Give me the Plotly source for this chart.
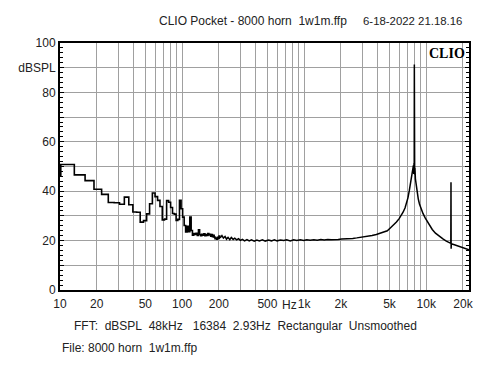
import math
import plotly.graph_objects as go

# ---------------- data ----------------
# FFT bins (48 kHz / 16384 points -> 2.93 Hz) at the low end, drawn as steps
low_freq = [8.79, 11.72, 14.65, 17.58, 20.51, 23.44, 26.37, 29.30, 32.23, 35.16,
            38.09, 41.02, 43.95, 46.88, 49.80, 52.73, 55.66, 58.59, 61.52, 64.45,
            67.38, 70.31, 73.24, 76.17, 79.10, 82.03, 84.96, 87.89, 90.82, 93.75,
            96.68, 99.61, 102.54, 105.47, 108.40, 111.33, 114.26, 117.19, 120.12, 123.05,
            125.98, 128.91, 131.84, 134.77, 137.70, 140.63, 143.55, 146.48, 149.41, 152.34,
            155.27, 158.20, 161.13, 164.06, 166.99, 169.92, 172.85, 175.78, 178.71, 181.64,
            184.57, 187.50, 190.43, 193.36, 196.29, 199.22, 202.15, 205.08]
low_db = [46.4, 50.8, 46.6, 44.3, 40.8, 38.7, 35.4, 35.3, 34.7, 37.6,
          34.5, 31.6, 31.5, 27.5, 28.1, 30.8, 34.9, 39.3, 37.8, 36.3,
          33.8, 28.4, 28.7, 36.2, 35.5, 33.4, 31.0, 30.7, 28.2, 28.6,
          36.3, 32.9, 29.5, 26.1, 23.5, 25.8, 23.6, 29.5, 24.1, 22.2,
          22.9, 22.5, 23.0, 22.1, 24.4, 22.5, 22.0, 22.6, 22.2, 22.8,
          22.0, 22.5, 22.1, 22.9, 22.3, 22.6, 21.8, 22.4, 21.6, 22.1,
          21.4, 20.8, 21.0, 20.6, 21.3, 20.9, 21.8, 21.1]

# higher frequencies, read point by point
hi_freq = [205, 212, 218, 225, 231, 238, 246, 253, 262, 270, 280, 290, 300, 312,
           325, 340, 355, 370, 390, 410, 430, 455, 480, 510, 540, 570, 600, 640,
           680, 720, 770, 820, 870, 930, 990, 1050, 1120, 1200, 1280, 1370, 1460,
           1560, 1670, 1780, 1900, 2030, 2170, 2330, 2500, 2700, 2900, 3100, 3350,
           3600, 3900, 4200, 4500, 4800, 5100, 5400, 5700, 6000, 6200, 6460, 6700,
           6880, 7080, 7270, 7400, 7520, 7650, 7770, 7850, 7900, 7940, 7970, 7990,
           8010, 8040, 8080, 8150, 8300, 8450, 8600, 8800, 9070, 9400, 9800, 10200,
           10600, 11200, 11900, 12700, 13700, 14600, 15500, 15900, 15950, 15990,
           16050, 17000, 17800, 19000, 20000, 21000, 22400]
hi_db = [21.1, 22.0, 21.0, 21.7, 20.6, 21.3, 20.4, 21.3, 20.5, 21.0, 20.3, 20.8, 20.1, 20.5,
         19.9, 20.4, 19.9, 20.3, 19.8, 20.2, 19.9, 20.3, 19.8, 20.2, 19.9, 20.3, 19.9, 20.2,
         20.0, 20.3, 19.9, 20.3, 20.0, 20.3, 20.0, 20.3, 20.1, 20.3, 20.1, 20.4, 20.2,
         20.4, 20.3, 20.5, 20.4, 20.6, 20.6, 20.8, 20.9, 21.1, 21.3, 21.5, 21.8,
         22.1, 22.5, 23.0, 23.6, 24.0, 25.2, 26.2, 27.5, 28.9, 30.0, 31.5, 33.2,
         34.9, 37.3, 40.3, 42.3, 44.3, 46.5, 48.4, 50.5, 47.0, 51.4, 47.5, 91.3,
         50.8, 46.8, 49.5, 45.0, 41.6, 39.0, 36.9, 34.8, 32.9, 31.0, 29.2, 27.6,
         26.1, 24.5, 23.0, 21.8, 20.7, 19.8, 19.1, 18.9, 43.6, 16.7,
         18.7, 18.3, 18.0, 17.5, 17.1, 16.7, 16.3]

grid_freqs = [10, 20, 30, 40, 50, 60, 70, 80, 90,
              100, 200, 300, 400, 500, 600, 700, 800, 900,
              1000, 2000, 3000, 4000, 5000, 6000, 7000, 8000, 9000,
              10000, 20000]
freq_labels = {10: "10", 20: "20", 50: "50", 100: "100", 200: "200", 500: "500",
               1000: "1k", 2000: "2k", 5000: "5k", 10000: "10k", 20000: "20k"}
db_ticks = [0, 10, 20, 30, 40, 50, 60, 70, 80, 90, 100]
db_labels = ["0", "", "20", "", "40", "", "60", "", "80", "dBSPL", "100"]

title_left = "CLIO Pocket - 8000 horn\u00a0\u00a01w1m.ffp"
title_right = "6-18-2022 21.18.16"
footer1 = "FFT:\u00a0 dBSPL\u00a0 48kHz\u00a0\u00a0 16384\u00a0 2.93Hz\u00a0 Rectangular\u00a0 Unsmoothed"
footer2 = "File: 8000 horn\u00a0 1w1m.ffp"

# ---------------- figure ----------------
FONT = "Liberation Sans, Arial, sans-serif"
TXT = "#222222"

# the page body adds an 8px offset; the plot box is placed so it lands where the reference has it
OFF = 8
PL, PR, PT, PB = 60 - OFF, 469 - OFF, 43 - OFF, 290 - OFF

fig = go.Figure()
fig.add_trace(go.Scatter(x=low_freq, y=low_db, mode="lines",
                         line=dict(color="black", width=1.6, shape="hvh"),
                         showlegend=False, hoverinfo="skip"))
fig.add_trace(go.Scatter(x=hi_freq, y=hi_db, mode="lines",
                         line=dict(color="black", width=1.5),
                         showlegend=False, hoverinfo="skip"))

fig.update_layout(
    width=500, height=375,
    margin=dict(l=PL, r=500 - PR, t=PT, b=375 - PB, pad=0, autoexpand=False),
    paper_bgcolor="white", plot_bgcolor="white",
    font=dict(family=FONT, size=12, color=TXT),
    showlegend=False,
)

fig.update_xaxes(
    type="log", range=[1, math.log10(22400)],
    tickmode="array", tickvals=grid_freqs,
    ticktext=[freq_labels.get(f, "") for f in grid_freqs],
    showgrid=True, gridcolor="#a0a0a0", gridwidth=1.3,
    showline=True, linecolor="black", linewidth=2, mirror=True,
    ticks="", tickfont=dict(size=12, color=TXT), ticklabelstandoff=2,
    zeroline=False, fixedrange=True, automargin=False,
)
fig.update_yaxes(
    range=[0, 100], tickmode="array", tickvals=db_ticks, ticktext=db_labels,
    showgrid=True, gridcolor="#a0a0a0", gridwidth=1.3,
    showline=True, linecolor="black", linewidth=2, mirror="allticks",
    ticks="inside", ticklen=4, tickcolor="black", tickwidth=1,
    minor=dict(dtick=2, ticks="inside", ticklen=3, tickcolor="black", tickwidth=1, showgrid=False),
    tickfont=dict(size=12, color=TXT), ticklabelstandoff=0,
    zeroline=False, fixedrange=True, automargin=False,
)

texts = [
    (title_left, 157, 21, 12),
    (title_right, 361, 21, 11.4),
    (footer1, 72, 326, 12),
    (footer2, 60, 348, 12),
]
ann = []
for t, X, Y, s in texts:
    ann.append(dict(text=t, xref="paper", yref="paper",
                    x=(X - OFF - PL) / (PR - PL), y=(PB - (Y - OFF)) / (PB - PT),
                    xanchor="left", yanchor="middle", showarrow=False,
                    font=dict(family=FONT, size=s, color=TXT)))
ann.append(dict(text="Hz", xref="x", yref="paper", x=math.log10(760),
                y=(PB - (305 - OFF)) / (PB - PT), xanchor="center", yanchor="middle",
                showarrow=False, font=dict(family=FONT, size=12, color=TXT)))
ann.append(dict(text="<b>CLIO</b>", xref="paper", yref="paper", x=1, y=1,
                xanchor="right", yanchor="top", xshift=-2, yshift=-1, showarrow=False,
                font=dict(family="Liberation Serif, Times New Roman, serif", size=14, color="black")))
fig.update_layout(annotations=ann)

fig.write_html("out.html")
